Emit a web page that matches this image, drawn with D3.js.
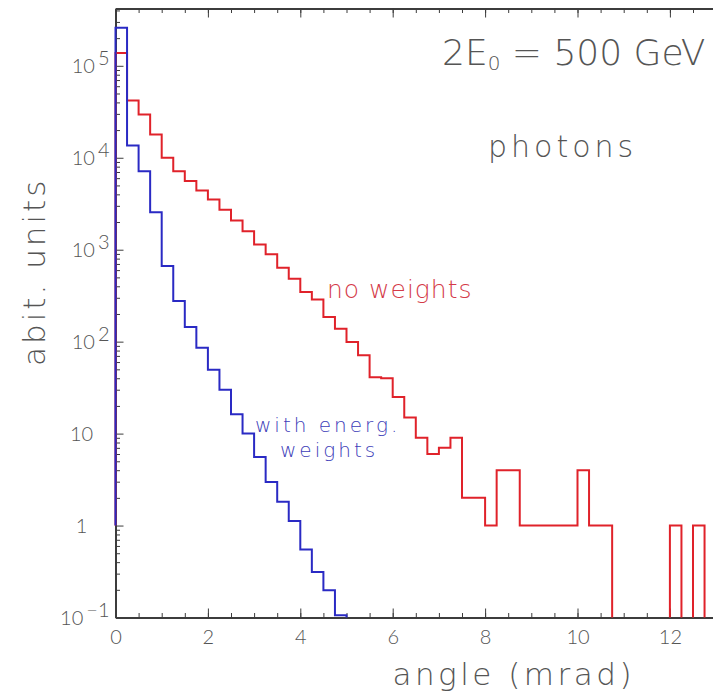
<!DOCTYPE html>
<html>
<head>
<meta charset="utf-8">
<script src="https://cdn.jsdelivr.net/npm/d3@7"></script>
<style>
  body { margin: 0; background: #fff; }
  svg { display: block; }
  text { font-family: Lato, "Open Sans", "DejaVu Sans", sans-serif; font-weight: 300; }
  text.big { font-family: "DejaVu Sans", sans-serif; font-weight: 200; }
</style>
</head>
<body>
<svg id="chart" width="713" height="695"></svg>
<script>
// Histogram binning (mrad)
const binStart = 0;
const binWidth = 0.25;

// Photon angular distribution, raw counts per bin
const noWeights = [
  138000, 42000, 29500, 17900, 10000, 7150, 5570, 4410, 3520, 2720,
  2080, 1590, 1140, 890, 637, 484, 346, 288, 185, 138,
  99, 71, 41, 40, 25, 15, 9, 6, 7, 9,
  2, 2, 1, 4, 4, 1, 1, 1, 1, 1,
  4, 1, 1, 0, 0, 0, 0, 0, 1, 0,
  1, 0
];

// Same distribution weighted by photon energy
const withWeights = [
  259000, 13600, 7150, 2550, 663, 276, 144, 86, 49.6, 30,
  16.2, 10.0, 5.57, 2.98, 1.81, 1.12, 0.548, 0.313, 0.198, 0.106
];

// Value at which each histogram outline starts on the left edge
const histBase = 1;

// Axes
const xDomain = [0, 14];
const yDomain = [0.1, 4.2e5];
const xMajorTicks = [0, 2, 4, 6, 8, 10, 12];
const xTickStep = 0.5;
const yTicks = [0.1, 1, 10, 100, 1e3, 1e4, 1e5];
const yTickBase = ["10", "1", "10", "10", "10", "10", "10"];
const yTickExp  = ["\u22121", "", "", "2", "3", "4", "5"];

const svg = d3.select("#chart");
const plotLeft = 115.5, plotTop = 8.5, plotBottom = 617.5, unitPx = 46.2;

const x = d3.scaleLinear().domain(xDomain).range([plotLeft, plotLeft + unitPx * (xDomain[1] - xDomain[0])]);
const y = d3.scaleLog().domain(yDomain).range([plotBottom, plotTop]);

const axisColor = "#3c3c3c";
const textColor = "#555";

// ---- histogram outlines ----
function stepPath(values) {
  const p = d3.path();
  const yMin = yDomain[0];
  let penDown = true;
  p.moveTo(x(binStart), y(histBase));
  values.forEach((v, i) => {
    const x0 = x(binStart + i * binWidth), x1 = x(binStart + (i + 1) * binWidth);
    if (v > 0) {
      if (!penDown) { p.moveTo(x0, y(yMin)); penDown = true; }
      p.lineTo(x0, y(v));
      p.lineTo(x1, y(v));
    } else if (penDown) {
      p.lineTo(x0, y(yMin));
      penDown = false;
    }
  });
  if (penDown) p.lineTo(x(binStart + values.length * binWidth), y(yMin));
  return p.toString();
}

// ---- axes ----
const xMinor = d3.range(xDomain[0], xDomain[1] + 1e-9, xTickStep);

// bottom axis: minor + major ticks pointing inward
svg.append("g")
  .attr("transform", `translate(0,${plotBottom})`)
  .call(d3.axisBottom(x).tickValues(xMinor).tickSize(-4.5).tickSizeOuter(0).tickFormat(""))
  .call(g => g.select(".domain").remove())
  .call(g => g.selectAll("line").attr("stroke", axisColor).attr("stroke-width", 1));
svg.append("g")
  .attr("transform", `translate(0,${plotBottom})`)
  .call(d3.axisBottom(x).tickValues(xMajorTicks).tickSize(-9).tickSizeOuter(0).tickPadding(12).tickFormat(d3.format("d")))
  .call(g => g.select(".domain").attr("stroke", axisColor).attr("stroke-width", 2))
  .call(g => g.selectAll("line").attr("stroke", axisColor).attr("stroke-width", 1))
  .call(g => g.selectAll("text")
    .attr("fill", textColor).attr("font-size", 20)
    .attr("font-family", "Lato, 'Open Sans', sans-serif").attr("font-weight", 300)
    .attr("dy", "0.71em"));

// top axis
svg.append("g")
  .attr("transform", `translate(0,${plotTop})`)
  .call(d3.axisTop(x).tickValues(xMinor).tickSize(-4.5).tickSizeOuter(0).tickFormat(""))
  .call(g => g.select(".domain").attr("stroke", axisColor).attr("stroke-width", 2))
  .call(g => g.selectAll("line").attr("stroke", axisColor).attr("stroke-width", 1));
svg.append("g")
  .attr("transform", `translate(0,${plotTop})`)
  .call(d3.axisTop(x).tickValues(xMajorTicks).tickSize(-9).tickSizeOuter(0).tickFormat(""))
  .call(g => g.select(".domain").remove())
  .call(g => g.selectAll("line").attr("stroke", axisColor).attr("stroke-width", 1));

// left axis: decade ticks and 2..9 minor ticks
const yMinor = [];
for (let e = -1; e <= 5; e++) for (let m = 2; m <= 9; m++) {
  const v = m * Math.pow(10, e);
  if (v <= yDomain[1]) yMinor.push(v);
}
svg.append("g")
  .attr("transform", `translate(${plotLeft},0)`)
  .call(d3.axisLeft(y).tickValues(yMinor).tickSize(-4.5).tickSizeOuter(0).tickFormat(""))
  .call(g => g.select(".domain").attr("stroke", axisColor).attr("stroke-width", 2))
  .call(g => g.selectAll("line").attr("stroke", axisColor).attr("stroke-width", 1));
svg.append("g")
  .attr("transform", `translate(${plotLeft},0)`)
  .call(d3.axisLeft(y).tickValues(yTicks).tickSize(-8).tickSizeOuter(0).tickFormat(""))
  .call(g => g.select(".domain").remove())
  .call(g => g.selectAll("line").attr("stroke", axisColor).attr("stroke-width", 1));

// y tick labels: 10 with raised exponent
const yLab = svg.append("g").attr("fill", textColor).attr("font-size", 20);
yTicks.forEach((v, i) => {
  const hasExp = yTickExp[i] !== "";
  const t = yLab.append("text")
    .attr("x", hasExp ? plotLeft - 6 : plotLeft - 34)
    .attr("y", y(v))
    .attr("dy", "0.36em")
    .attr("text-anchor", hasExp ? "end" : "middle");
  t.append("tspan").text(yTickBase[i]);
  if (hasExp) t.append("tspan").attr("dx", 3).attr("dy", -8).text(yTickExp[i]);
});

// ---- histograms ----
svg.append("path")
  .attr("d", stepPath(noWeights))
  .attr("fill", "none").attr("stroke", "#e0222a").attr("stroke-width", 2);
svg.append("path")
  .attr("d", stepPath(withWeights))
  .attr("fill", "none").attr("stroke", "#2a2ac4").attr("stroke-width", 2);

// ---- axis titles ----
svg.append("text").attr("class", "big")
  .attr("x", 635).attr("y", 685)
  .attr("text-anchor", "end")
  .attr("fill", textColor).attr("font-size", 31).attr("letter-spacing", 3.5)
  .text("angle (mrad)");
svg.append("text").attr("class", "big")
  .attr("transform", "translate(45,366) rotate(-90)")
  .attr("fill", textColor).attr("font-size", 31).attr("letter-spacing", 3)
  .text("abit. units");

// ---- annotations ----
const head = svg.append("text").attr("class", "big")
  .attr("x", 442).attr("y", 65)
  .attr("fill", textColor).attr("font-size", 36);
head.append("tspan").text("2E");
head.append("tspan").attr("font-size", 20).attr("dy", 5).text("0");
head.append("tspan").attr("dy", -5).text(" = 500 GeV");

svg.append("text").attr("class", "big")
  .attr("x", 488).attr("y", 157)
  .attr("fill", textColor).attr("font-size", 30).attr("letter-spacing", 4)
  .text("photons");

svg.append("text").attr("class", "big")
  .attr("x", 327).attr("y", 298)
  .attr("fill", "#d43a48").attr("font-size", 25).attr("letter-spacing", 1)
  .text("no weights");

const ww = svg.append("text").attr("class", "big")
  .attr("fill", "#3d3db8").attr("font-size", 20).attr("letter-spacing", 3);
ww.append("tspan").attr("x", 255).attr("y", 432).text("with energ.");
ww.append("tspan").attr("x", 280).attr("y", 457).text("weights");
</script>
</body>
</html>
